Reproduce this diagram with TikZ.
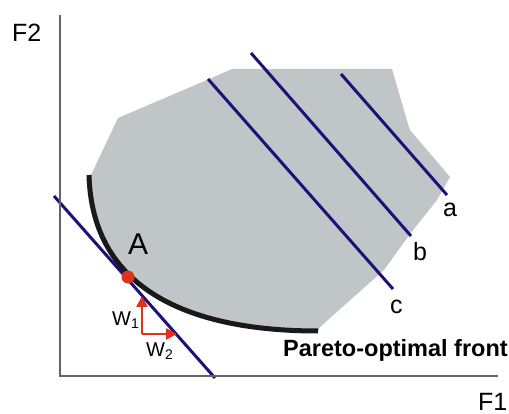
\documentclass[tikz,border=0pt]{standalone}
\usepackage{fontspec}
\setmainfont{Liberation Sans}
\usepackage{xcolor}
\usetikzlibrary{arrows.meta}

\definecolor{regiongray}{RGB}{192,197,199}
\definecolor{linenavy}{RGB}{32,16,120}
\definecolor{weightred}{RGB}{224,48,30}
\definecolor{axisgray}{RGB}{100,100,100}

\tikzset{
  lbl/.style={font=\fontsize{25}{28}\selectfont, inner sep=0pt},
  biglbl/.style={font=\fontsize{30}{32}\selectfont, inner sep=0pt},
  wlbl/.style={font=\fontsize{20}{22}\selectfont, inner sep=0pt},
  levelline/.style={linenavy, line width=3pt},
  weight/.style={weightred, line width=2.5pt, -{Triangle[length=11pt,width=11pt]}}
}

\begin{document}
\begin{tikzpicture}[x=1pt,y=-1pt]
    \useasboundingbox (0,0) rectangle (509,414);

    % feasible region
    \fill[regiongray] (91,175) -- (118,118) -- (200,83) -- (232,69) -- (392,69)
        -- (408,124) -- (410,130) -- (450,177) -- (437,200) -- (410,234)
        -- (384,270) -- (320,327) -- (318,331)
        .. controls (190,331) and (92,290) .. (89,175) -- cycle;

    % Pareto-optimal front
    \draw[line width=5pt, black!90] (89,175) .. controls (92,290) and (190,331) .. (318,331);

    % level lines
    \draw[levelline] (54,196) -- (215,378);
    \draw[levelline] (208,79) -- (393,289);
    \draw[levelline] (251,53) -- (411,236);
    \draw[levelline] (341,74) -- (447,195);

    % axes
    \draw[axisgray, line width=1.5pt] (60,15) -- (60,376) -- (498,376);
    \node[lbl, anchor=base west] (f2) at (12,42) {F2};
    \node[lbl, anchor=base west] (f1) at (478,410) {F1};

    % point A and weights
    \coordinate (ptA) at (128,277);
    \coordinate (wbase) at (142,334);
    \coordinate (wup) at (142,296);
    \coordinate (wright) at (177,334);
    \fill[weightred] (ptA) circle (6.5pt);
    \draw[weight] (wbase) -- (wup);
    \draw[weight] (wbase) -- (wright);

    % labels
    \node[biglbl, anchor=base west] (labA) at (128,255) {A};
    \node[lbl, anchor=base west] (laba) at (443,217) {a};
    \node[lbl, anchor=base west] (labb) at (413,261) {b};
    \node[lbl, anchor=base west] (labc) at (390,313) {c};
    \node[wlbl, anchor=base west] (w1) at (112,325) {W\textsubscript{1}};
    \node[wlbl, anchor=base west] (w2) at (146,356) {W\textsubscript{2}};
    \node[lbl, anchor=base west, font=\fontsize{23.5}{26}\selectfont\bfseries] (front) at (283,356) {Pareto-optimal front};
\end{tikzpicture}
\end{document}
